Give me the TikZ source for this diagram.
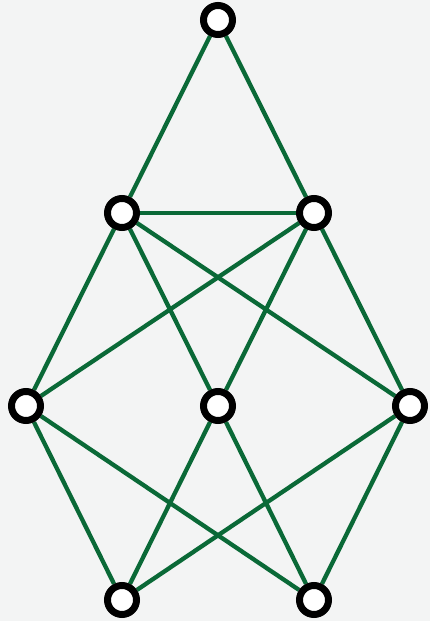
\documentclass[tikz,border=0pt]{standalone}
\usepackage{xcolor}
\usepackage{tikz}
\usetikzlibrary{positioning,backgrounds}
\definecolor{edgegreen}{RGB}{10,105,55}
\definecolor{mapbg}{RGB}{243,244,244}

\begin{document}
\begin{tikzpicture}[
  x=1pt,y=1pt,
  vtx/.style={circle,draw=black,fill=white,line width=7pt,minimum size=29pt,inner sep=0pt},
  edge/.style={draw=edgegreen,line width=4.3pt}
]
\useasboundingbox (0,0) rectangle (430,621);

% Vertices
\node[vtx] (top) at (218,601) {};
\node[vtx] (l2)  at (122,408) {};
\node[vtx] (r2)  at (314,408) {};
\node[vtx] (l3)  at (26,215)  {};
\node[vtx] (m3)  at (218,215) {};
\node[vtx] (r3)  at (410,215) {};
\node[vtx] (bl)  at (122,21)  {};
\node[vtx] (br)  at (314,21)  {};

% Background and edges
\begin{scope}[on background layer]
\fill[mapbg] (0,0) rectangle (430,621);
\draw[edge] (top) -- (l2);
\draw[edge] (top) -- (r2);
\draw[edge] (l2) -- (r2);
\draw[edge] (l2) -- (l3);
\draw[edge] (l2) -- (m3);
\draw[edge] (l2) -- (r3);
\draw[edge] (r2) -- (l3);
\draw[edge] (r2) -- (m3);
\draw[edge] (r2) -- (r3);
\draw[edge] (l3) -- (bl);
\draw[edge] (l3) -- (br);
\draw[edge] (m3) -- (bl);
\draw[edge] (m3) -- (br);
\draw[edge] (r3) -- (bl);
\draw[edge] (r3) -- (br);
\end{scope}
\end{tikzpicture}
\end{document}
